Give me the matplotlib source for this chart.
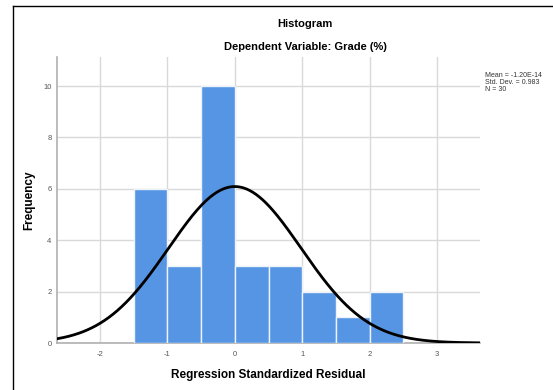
import numpy as np
from matplotlib import pyplot as plt
from matplotlib.lines import Line2D

plt.rcParams['font.family'] = ['Liberation Sans', 'DejaVu Sans']
plt.rcParams['axes.unicode_minus'] = False

# histogram data
bin_edges = [-1.5, -1.0, -0.5, 0.0, 0.5, 1.0, 1.5, 2.0, 2.5]
counts = [6, 3, 10, 3, 3, 2, 1, 2]
mean = -1.20e-14
std_dev = 0.983
n_obs = 30
x_ticks = [-2, -1, 0, 1, 2, 3]
y_ticks = [0, 2, 4, 6, 8, 10]

bar_color = '#5595e4'
grid_color = '#d9d9d9'

fig = plt.figure(figsize=(5.53, 3.90), dpi=100)
ax = fig.add_axes([57 / 553, 1 - 343 / 390, 423 / 553, 286 / 390])

widths = np.diff(bin_edges)
ax.bar(bin_edges[:-1], counts, width=widths, align='edge', color=bar_color,
       edgecolor='#eef3fb', linewidth=1.0, zorder=3)

# normal curve scaled to the histogram
bw = widths[0]
xs = np.linspace(-2.64, 3.64, 400)
ys = n_obs * bw / (std_dev * np.sqrt(2 * np.pi)) * np.exp(-0.5 * ((xs - mean) / std_dev) ** 2)
ax.plot(xs, ys, color='black', linewidth=2.0, zorder=4)

ax.set_xlim(-2.64, 3.64)
ax.set_ylim(0, 11.13)
ax.set_xticks(x_ticks)
ax.set_yticks(y_ticks)
ax.grid(color=grid_color, linewidth=1.0, zorder=0)
ax.tick_params(axis='x', length=0, labelsize=5.5, labelcolor='#555555', pad=6)
ax.tick_params(axis='y', length=0, labelsize=5.5, labelcolor='#555555', pad=4)

for side in ['top', 'right']:
    ax.spines[side].set_visible(False)
for side in ['left', 'bottom']:
    ax.spines[side].set_color('#b0b0b0')
    ax.spines[side].set_linewidth(1.2)

ax.set_xlabel('Regression Standardized Residual', fontsize=8.5, fontweight='bold')
ax.set_ylabel('Frequency', fontsize=8.5, fontweight='bold')
ax.xaxis.set_label_coords(0.5, -(375 - 343) / 286)
ax.yaxis.set_label_coords(-(57 - 29) / 423, 0.5)
ax.xaxis.label.set_va('center')
ax.yaxis.label.set_va('center')

fig.text(305 / 553, 1 - 24 / 390, 'Histogram', ha='center', va='center',
         fontsize=8, fontweight='bold')
fig.text(305 / 553, 1 - 47 / 390, 'Dependent Variable: Grade (%)', ha='center', va='center',
         fontsize=8, fontweight='bold')

stats_text = f"Mean = -1.20E-14\nStd. Dev. = {std_dev}\nN = {n_obs}"
fig.text(485 / 553, 1 - 72 / 390, stats_text, ha='left', va='top', fontsize=5,
         color='#333333', linespacing=1.0)

# chart frame lines (left and top)
fig.add_artist(Line2D([13 / 553, 13 / 553], [0, 1 - 6 / 390], color='black', linewidth=1.0))
fig.add_artist(Line2D([13 / 553, 1], [1 - 6 / 390, 1 - 6 / 390], color='black', linewidth=1.0))

fig.savefig('out.png', dpi=100)
